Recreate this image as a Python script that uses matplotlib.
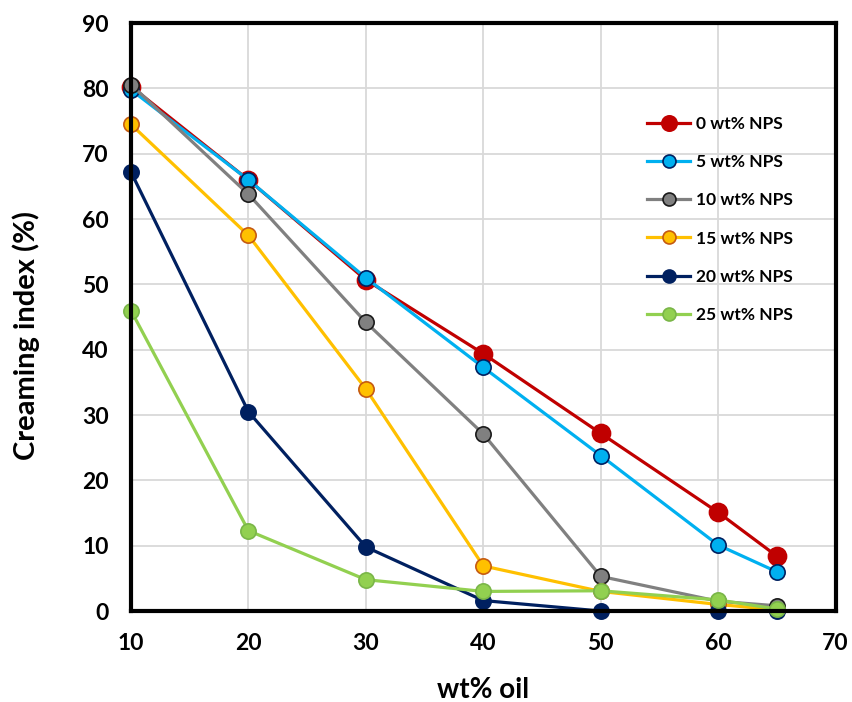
import matplotlib.pyplot as plt

plt.rcParams['font.family'] = ['Lato', 'DejaVu Sans']
plt.rcParams['font.weight'] = 'bold'

oil = [10, 20, 30, 40, 50, 60, 65]
labels = ['0 wt% NPS', '5 wt% NPS', '10 wt% NPS', '15 wt% NPS', '20 wt% NPS', '25 wt% NPS']
ci_0 = [80.3, 66.0, 50.7, 39.4, 27.2, 15.1, 8.4]
ci_5 = [79.8, 66.0, 51.0, 37.3, 23.8, 10.1, 6.0]
ci_10 = [80.6, 63.8, 44.2, 27.1, 5.3, 1.5, 0.8]
ci_15 = [74.5, 57.5, 34.0, 6.9, 3.0, 1.0, 0.2]
ci_20 = [67.2, 30.5, 9.8, 1.6, 0.0, 0.0, 0.0]
ci_25 = [46.0, 12.3, 4.8, 3.0, 3.1, 1.7, 0.3]

series = [ci_0, ci_5, ci_10, ci_15, ci_20, ci_25]
line_colors = ['#C00000', '#00B0F0', '#808080', '#FFC000', '#002060', '#92D050']
edge_colors = ['#C00000', '#002060', '#1a1a1a', '#C55A11', '#002060', '#7AB648']
msizes = [13, 11, 11, 11, 11, 11]

fig = plt.figure(figsize=(8.53, 7.02), dpi=100)
ax = fig.add_axes([0.1536, 0.1296, 0.826, 0.8374])

for ys, lc, ec, ms, lab in zip(series, line_colors, edge_colors, msizes, labels):
    ax.plot(oil, ys, color=lc, lw=2.3, marker='o', markersize=ms,
            markerfacecolor=lc, markeredgecolor=ec, markeredgewidth=1.2,
            label=lab, clip_on=False)

ax.set_xlim(10, 70)
ax.set_ylim(0, 90)
ax.set_xticks(range(10, 71, 10))
ax.set_yticks(range(0, 91, 10))
ax.grid(True, color='#d9d9d9', lw=1.3)
ax.set_axisbelow(True)
for s in ax.spines.values():
    s.set_linewidth(3)
    s.set_color('black')
ax.tick_params(length=0, labelsize=16.5, pad=16)
for t in ax.get_xticklabels() + ax.get_yticklabels():
    t.set_fontweight('bold')

ax.set_xlabel('wt% oil', fontsize=20, fontweight='bold')
ax.set_ylabel('Creaming index (%)', fontsize=21, fontweight='bold')
ax.xaxis.set_label_coords(0.5, -0.112)
ax.yaxis.set_label_coords(-0.129, 0.468)

ax.legend(loc='upper left', bbox_to_anchor=(0.71, 0.868), frameon=False,
          fontsize=12.5, handlelength=2.5, handletextpad=0.3, labelspacing=1.27,
          markerscale=0.85)

fig.savefig('out.png', dpi=100)
